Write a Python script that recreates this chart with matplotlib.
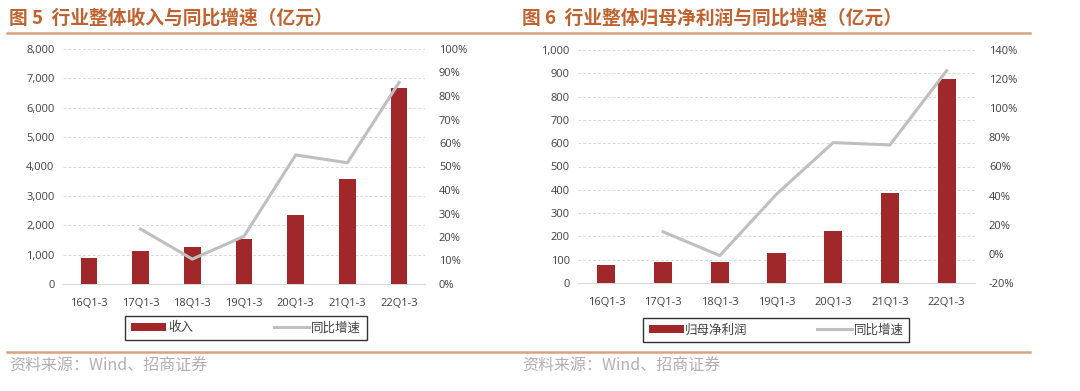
import numpy as np
import matplotlib
matplotlib.use("Agg")
import matplotlib.pyplot as plt
from matplotlib.lines import Line2D
from matplotlib.patches import Patch
from matplotlib.ticker import FuncFormatter, MultipleLocator

plt.rcParams['font.family'] = ['Open Sans', 'Noto Sans CJK SC', 'DejaVu Sans']

categories = ['16Q1-3', '17Q1-3', '18Q1-3', '19Q1-3', '20Q1-3', '21Q1-3', '22Q1-3']

# 图5 收入 (亿元) and 同比增速 (%)
revenue = [890, 1120, 1250, 1520, 2350, 3570, 6660]
revenue_yoy = [np.nan, 23.4, 10.6, 20.3, 54.9, 51.6, 85.8]

# 图6 归母净利润 (亿元) and 同比增速 (%)
profit = [78, 91, 90, 127, 223, 388, 874]
profit_yoy = [np.nan, 15.2, -1.2, 41.0, 76.4, 74.8, 125.8]

titles = ['图 5  行业整体收入与同比增速（亿元）', '图 6  行业整体归母净利润与同比增速（亿元）']
bar_labels = ['收入', '归母净利润']
line_label = '同比增速'
source = '资料来源：Wind、招商证券'

W, H = 1080, 391
BAR_C = '#A0282A'
LINE_C = '#BFBFBF'
TITLE_C = '#C0622F'
RULE_C = '#D9A27E'

fig = plt.figure(figsize=(W / 100, H / 100), dpi=100)


def px_axes(x0, y0, x1, y1):
    return fig.add_axes([x0 / W, 1 - y1 / H, (x1 - x0) / W, (y1 - y0) / H])


def panel(box, bars, yoy, left_lim, left_step, right_lim, right_step, bar_label,
          legend_xy, legend_gap):
    ax = px_axes(*box)
    x = np.arange(len(categories))
    ax.bar(x, bars, width=0.32, color=BAR_C, zorder=3)
    ax.set_xlim(-0.5, len(categories) - 0.5)
    ax.set_ylim(*left_lim)
    ax.yaxis.set_major_locator(MultipleLocator(left_step))
    ax.yaxis.set_major_formatter(FuncFormatter(lambda v, p: f'{v:,.0f}'))
    ax.set_xticks(x)
    ax.set_xticklabels(categories)
    ax.grid(axis='y', color='#D9D9D9', linestyle=(0, (3, 2)), linewidth=0.7, zorder=0)
    for s in ['top', 'right', 'left']:
        ax.spines[s].set_visible(False)
    ax.spines['bottom'].set_color('#D9D9D9')
    ax.tick_params(length=0, labelsize=8, colors='#404040', pad=6)
    ax.tick_params(axis='x', pad=10)

    ax2 = ax.twinx()
    ax2.plot(x, yoy, color=LINE_C, lw=2.2, zorder=4)
    ax2.set_ylim(*right_lim)
    ax2.yaxis.set_major_locator(MultipleLocator(right_step))
    ax2.yaxis.set_major_formatter(FuncFormatter(lambda v, p: f'{v:.0f}%'))
    for s in ax2.spines.values():
        s.set_visible(False)
    ax2.tick_params(length=0, labelsize=8, colors='#404040', pad=10)

    handles = [Patch(facecolor=BAR_C, edgecolor='none'),
               Line2D([0], [0], color=LINE_C, lw=2.2)]
    leg = fig.legend(handles, [bar_label, line_label], ncol=2, loc='center',
                     bbox_to_anchor=(legend_xy[0] / W, 1 - legend_xy[1] / H),
                     frameon=True, fancybox=False, fontsize=9,
                     handlelength=2.8, handleheight=0.6, handletextpad=0.15,
                     columnspacing=legend_gap, borderpad=0.45, borderaxespad=0)
    leg.get_frame().set_edgecolor('black')
    leg.get_frame().set_linewidth(1.0)
    for t in leg.get_texts():
        t.set_family(['Noto Sans CJK SC', 'DejaVu Sans'])
        t.set_color('#404040')
    return ax


panel((63, 49, 425, 284), revenue, revenue_yoy, (0, 8000), 1000, (0, 100), 10,
      bar_labels[0], (246, 328), 6.5)
panel((578, 50, 975, 283), profit, profit_yoy, (0, 1000), 100, (-20, 140), 20,
      bar_labels[1], (776, 330), 5.5)

# titles, rules and source notes
for x0, x1 in [(7, 520), (522, 1030)]:
    fig.add_artist(Line2D([x0 / W, x1 / W], [1 - 33 / H, 1 - 33 / H],
                          color=RULE_C, lw=1.8))
    fig.add_artist(Line2D([x0 / W, x1 / W], [1 - 352 / H, 1 - 352 / H],
                          color=RULE_C, lw=1.8))
for tx, title in zip([9, 522], titles):
    fig.text(tx / W, 1 - 18 / H, title, fontsize=13.5, fontweight='bold',
             color=TITLE_C, va='center', ha='left',
             family=['Noto Sans CJK SC', 'DejaVu Sans'])
    fig.text(tx / W, 1 - 366 / H, source, fontsize=11.5, color='#B0B0B0',
             va='center', ha='left', family=['Noto Sans CJK SC', 'DejaVu Sans'])

fig.savefig('out.png', dpi=100)
